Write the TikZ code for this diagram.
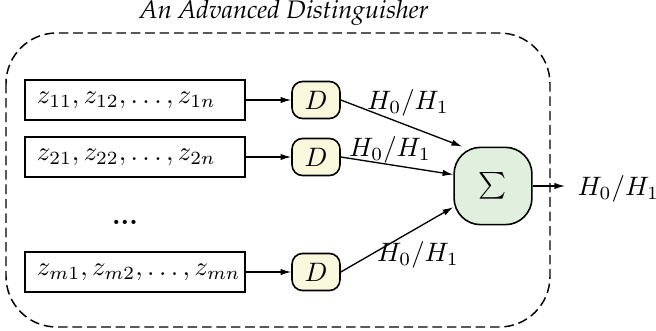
\documentclass[tikz,border=0pt]{standalone}
\usepackage[T1,TU]{fontenc}
\usetikzlibrary{arrows.meta}
\definecolor{dfill}{HTML}{FAF8DC}
\definecolor{sfill}{HTML}{E1F0DE}
\tikzset{
  seqbox/.style={draw, line width=0.5pt, text width=73.5pt, inner xsep=4.5pt, minimum height=15pt, align=left},
  dbox/.style={draw, line width=0.6pt, fill=dfill, rounded corners=4pt, minimum width=18pt, minimum height=13.9pt, inner sep=0pt},
  sbox/.style={draw, line width=0.6pt, fill=sfill, rounded corners=10pt, minimum width=29.2pt, minimum height=29pt, inner sep=0pt},
  frame/.style={draw, line width=0.55pt, dash pattern=on 3.6pt off 1.8pt, rounded corners=19pt},
  arr/.style={-{Latex[length=4pt,width=2.4pt]}, line width=0.5pt},
  lbl/.style={inner sep=0pt},
}
\begin{document}
\begin{tikzpicture}[x=0.375pt,y=-0.375pt]
\useasboundingbox (0,0) rectangle (656,331);
\node[lbl] (title) at (284,13) {\fontencoding{T1}\fontfamily{ppl}\fontsize{9.5}{11}\itshape\selectfont An Advanced Distinguisher};
\draw[frame] (6,33) rectangle (550,327);
\node[seqbox] (b1) at (135,100) {$z_{11}, z_{12}, \ldots, z_{1n}$};
\node[seqbox] (b2) at (135,157) {$z_{21}, z_{22}, \ldots, z_{2n}$};
\node[seqbox] (bm) at (135,272) {$z_{m1}, z_{m2}, \ldots, z_{mn}$};
\node[lbl, anchor=base] (dots) at (125,224) {\textbf{...}};
\node[dbox] (d1) at (316,100) {$D$};
\node[dbox] (d2) at (316,157) {$D$};
\node[dbox] (dm) at (316,272) {$D$};
\node[sbox] (s) at (493,186) {$\sum$};
\node[lbl] (l1) at (408,103) {$H_0/H_1$};
\node[lbl] (l2) at (390,150) {$H_0/H_1$};
\node[lbl] (l3) at (418,255) {$H_0/H_1$};
\node[lbl, anchor=west, inner xsep=4.5pt] (out) at (565,189) {$H_0/H_1$};
\draw[arr] (b1) -- (d1);
\draw[arr] (b2) -- (d2);
\draw[arr] (bm) -- (dm);
\draw[arr] (d1.east) -- (s.128);
\draw[arr] (d2.east) -- (s.164);
\draw[arr] (dm.east) -- (s.208);
\draw[arr] (s.east) -- (s.east -| out.west);
\end{tikzpicture}
\end{document}
